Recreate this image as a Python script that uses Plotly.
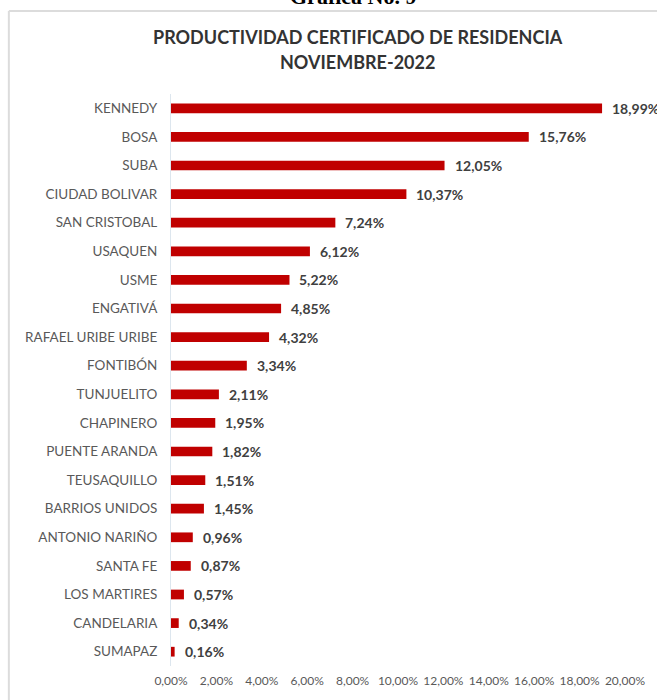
import plotly.graph_objects as go

# Localidades y porcentaje de productividad (noviembre 2022)
localidades = [
    "KENNEDY", "BOSA", "SUBA", "CIUDAD BOLIVAR", "SAN CRISTOBAL", "USAQUEN",
    "USME", "ENGATIVÁ", "RAFAEL URIBE URIBE", "FONTIBÓN", "TUNJUELITO",
    "CHAPINERO", "PUENTE ARANDA", "TEUSAQUILLO", "BARRIOS UNIDOS",
    "ANTONIO NARIÑO", "SANTA FE", "LOS MARTIRES", "CANDELARIA", "SUMAPAZ",
]
porcentajes = [
    18.99, 15.76, 12.05, 10.37, 7.24, 6.12, 5.22, 4.85, 4.32, 3.34, 2.11,
    1.95, 1.82, 1.51, 1.45, 0.96, 0.87, 0.57, 0.34, 0.16,
]
ticks_x = [0, 2, 4, 6, 8, 10, 12, 14, 16, 18, 20]

W, H = 657, 700
ML, MR, MT, MB = 171, 31, 94, 31

fracciones = [p / 100 for p in porcentajes]

fig = go.Figure(
    go.Bar(
        x=fracciones,
        y=localidades,
        orientation="h",
        marker=dict(color="#C00000", line=dict(width=0)),
        width=0.34,
        hoverinfo="skip",
    )
)

# Etiquetas de valor al final de cada barra
for loc, v in zip(localidades, fracciones):
    fig.add_annotation(
        x=v, y=loc, xref="x", yref="y",
        text=f"{v * 100:.2f}%".replace(".", ","),
        showarrow=False, xanchor="left", yanchor="middle", xshift=8,
        font=dict(family="Lato", size=14, color="#404040", weight="bold"),
    )

pw = W - ML - MR
ph = H - MT - MB


def px_x(p):
    return (p - ML) / pw


def px_y(p):
    return (H - MB - p) / ph


# Marco del gráfico (borde superior e izquierdo)
fig.add_shape(type="line", xref="paper", yref="paper",
              x0=px_x(8.5), x1=px_x(W + 5), y0=px_y(10.5), y1=px_y(10.5),
              line=dict(color="#dcdcdc", width=2))
fig.add_shape(type="line", xref="paper", yref="paper",
              x0=px_x(8.5), x1=px_x(8.5), y0=px_y(10.5), y1=px_y(H + 5),
              line=dict(color="#dcdcdc", width=2))

# Encabezado del documento
fig.add_annotation(
    x=px_x(353), y=px_y(11), xref="paper", yref="paper",
    text="<b>Gráfica No. 9</b>", showarrow=False,
    xanchor="center", yanchor="bottom",
    font=dict(family="Liberation Serif", size=22, color="#000000"),
)

# Título
fig.add_annotation(
    x=px_x(358), y=px_y(37), xref="paper", yref="paper",
    text="PRODUCTIVIDAD CERTIFICADO DE RESIDENCIA",
    showarrow=False, xanchor="center", yanchor="middle",
    font=dict(family="Lato", size=18, color="#333333", weight="bold"),
)
fig.add_annotation(
    x=px_x(358), y=px_y(62), xref="paper", yref="paper",
    text="NOVIEMBRE-2022",
    showarrow=False, xanchor="center", yanchor="middle",
    font=dict(family="Lato", size=18, color="#333333", weight="bold"),
)

fig.update_layout(
    width=W, height=H,
    margin=dict(l=ML, r=MR, t=MT, b=MB, pad=0),
    paper_bgcolor="white", plot_bgcolor="white",
    separators=",.",
    showlegend=False,
    font=dict(family="Lato"),
    xaxis=dict(
        range=[0, 0.2], tickmode="array",
        tickvals=[t / 100 for t in ticks_x], tickformat=".2%",
        tickangle=0, showgrid=False, zeroline=False, showline=False,
        ticks="", tickfont=dict(family="Lato", size=12, color="#595959"),
        ticklabelstandoff=6, fixedrange=True,
    ),
    yaxis=dict(
        categoryorder="array", categoryarray=localidades,
        autorange="reversed", showgrid=False, zeroline=False,
        showline=True, linecolor="#dde6ee", linewidth=1,
        ticks="", tickfont=dict(family="Lato", size=13.5, color="#595959"),
        ticklabelstandoff=10, fixedrange=True,
    ),
)

fig.write_html("out.html")
